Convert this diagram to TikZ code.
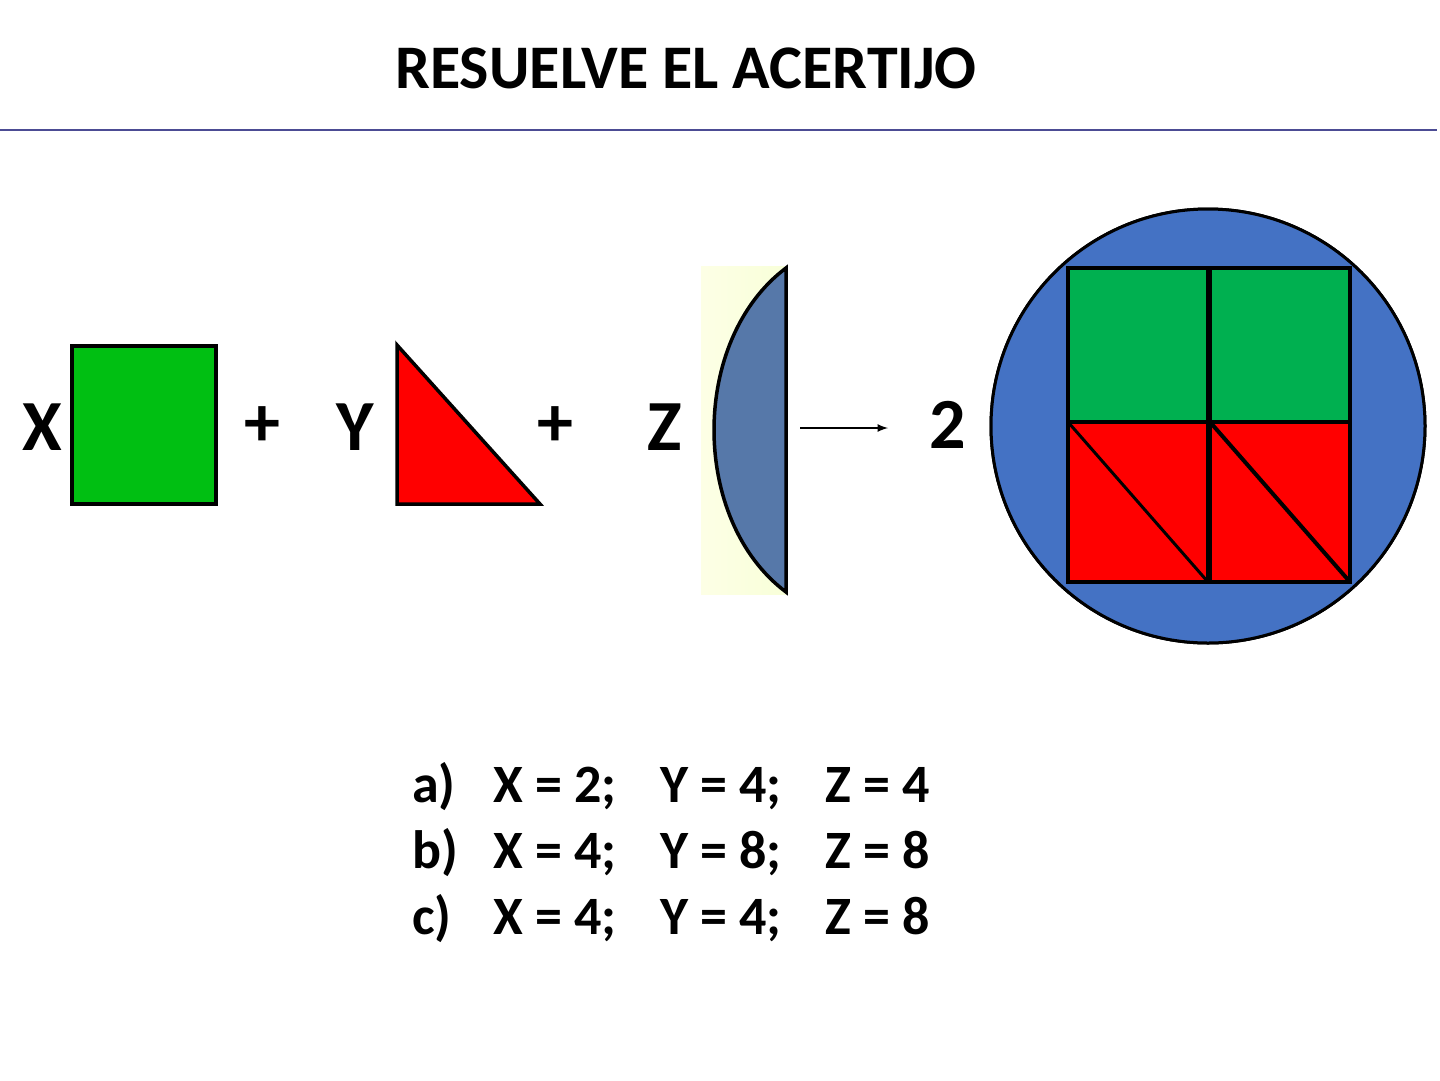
\documentclass[tikz,border=0pt]{standalone}
\usepackage{fontspec}
\setmainfont{Carlito}
\begin{document}
\begin{tikzpicture}[x=1pt,y=-1pt,
  lbl/.style={font=\fontsize{72}{80}\selectfont\bfseries,inner sep=0},
  opt/.style={font=\fontsize{54}{60}\selectfont\bfseries,inner sep=0,anchor=base west},
  shp/.style={draw=black,line width=3.5pt,line join=miter}]
\useasboundingbox[fill=white] (0,0) rectangle (1440,1080);
\node[font=\fontsize{62}{70}\selectfont\bfseries,inner sep=0,anchor=base] (title) at (686,88) {RESUELVE EL ACERTIJO};
\draw[color=black!30!blue!40!gray,line width=1.5pt] (0,130) -- (1437,130);
% X square
\node[lbl,anchor=base] (X) at (42,450) {X};
\draw[shp,fill=green!60!black!90!cyan!70!green] (72,346) rectangle (216,504);
\node[lbl,anchor=base] (p1) at (262,446) {+};
\node[lbl,anchor=base] (Y) at (355,450) {Y};
\draw[shp,fill=red] (397,345) -- (397,504) -- (540,504) -- cycle;
\node[lbl,anchor=base] (p2) at (555,446) {+};
\node[lbl,anchor=base] (Z) at (665,450) {Z};
\fill[left color=green!8!yellow!10,right color=green!18!yellow!15] (701,266) rectangle (786,594);
\draw[shp,fill=blue!40!cyan!25!gray!90!blue] (786,268) .. controls (690,340) and (690,520) .. (786,592) -- cycle;
\coordinate (a1) at (800,428);
\node[lbl,anchor=base] (two) at (948,448) {2};
\draw[line width=2.5pt,-latex] (a1) -- (888,428);
% circle
\draw[line width=3pt,fill=blue!55!cyan!40!gray!80!blue] (1208,426) circle (217);
\definecolor{gg}{HTML}{00B050}
\definecolor{bb}{HTML}{4472C4}
\draw[line width=3pt,fill=bb] (1208,426) circle (217);
\draw[shp,fill=gg] (1068,268) rectangle (1208,422);
\draw[shp,fill=gg] (1210,268) rectangle (1350,422);
\draw[shp,fill=red] (1068,422) rectangle (1208,582);
\draw[shp,fill=red] (1210,422) rectangle (1350,582);
\draw[line width=3pt] (1068,422) -- (1208,582);
\draw[line width=4pt] (1210,422) -- (1350,582);
% options
\node[opt] (a) at (412,802) {a)};
\node[opt] at (493,802) {X = 2;};
\node[opt] at (660,802) {Y = 4;};
\node[opt] at (825,802) {Z = 4};
\node[opt] (b) at (412,868) {b)};
\node[opt] at (493,868) {X = 4;};
\node[opt] at (660,868) {Y = 8;};
\node[opt] at (825,868) {Z = 8};
\node[opt] (c) at (412,934) {c)};
\node[opt] at (493,934) {X = 4;};
\node[opt] at (660,934) {Y = 4;};
\node[opt] at (825,934) {Z = 8};
\end{tikzpicture}
\end{document}
